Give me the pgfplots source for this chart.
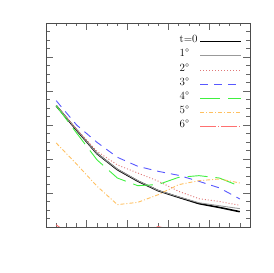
\documentclass[border=0pt]{standalone}
\usepackage{pgfplots}
\pgfplotsset{compat=1.18}
\definecolor{c1}{HTML}{999999}
\definecolor{c2}{HTML}{E07878}
\definecolor{c3}{HTML}{5858FF}
\definecolor{c4}{HTML}{40F040}
\definecolor{c5}{HTML}{FFC060}
\definecolor{c6}{HTML}{FF7070}
\tikzset{
  s0/.style={color=black, line width=1.6pt, solid},
  s1/.style={color=c1, line width=0.9pt, solid},
  s2/.style={color=c2, line width=0.9pt, dash pattern=on 1pt off 2pt},
  s3/.style={color=c3, line width=0.9pt, dash pattern=on 8pt off 6pt},
  s4/.style={color=c4, line width=0.9pt, dash pattern=on 20pt off 8pt},
  s5/.style={color=c5, line width=0.9pt, dash pattern=on 4pt off 2pt on 1pt off 2pt},
  s6/.style={color=c6, line width=0.9pt, dash pattern=on 16pt off 2pt on 1pt off 2pt},
}
\begin{document}
\begin{tikzpicture}
\useasboundingbox (0,0) rectangle (273pt,273pt);
\begin{axis}[
  at={(46pt,46pt)}, anchor=south west,
  scale only axis, width=204pt, height=204pt,
  xmin=0, xmax=20, ymin=0, ymax=24,
  xtick={0,4,...,20}, ytick={0,4,...,24},
  minor x tick num=3, minor y tick num=3,
  xticklabels={}, yticklabels={},
  tick align=inside, major tick length=7pt, minor tick length=3.5pt,
  axis line style={draw=black!70, line width=0.8pt},
  every tick/.style={black!60, line width=0.6pt},
  clip=true,
  legend plot pos=right,
  legend cell align=left,
  legend style={at={(rel axis cs:0.975,0.96)}, anchor=north east, draw=none, fill=none,
     font=\fontsize{11}{11}\selectfont,
     row sep=1.2pt},
  legend image code/.code={\draw[#1, line width=1.1pt] (0pt,-2pt) -- (41pt,-2pt);},
]
\addplot[s0, legend image post style={line width=1.8pt}] coordinates {(1,14.27)(3,11.4)(5,8.63)(7,6.75)(9,5.4)(11,4.27)(13,3.5)(15,2.75)(17,2.3)(19,1.8)};
\addlegendentry{t=0}
\addplot[s1] coordinates {(1,14.3)(3,11.45)(5,8.65)(7,6.8)(9,5.45)(11,4.3)(13,3.55)(15,2.85)(17,2.5)(19,2.16)};
\addlegendentry{1\textdegree}
\addplot[s2] coordinates {(1,14.27)(3,11.5)(5,8.9)(7,7.3)(9,6.35)(11,5.4)(13,4.2)(15,3.33)(17,3.0)(19,2.55)};
\addlegendentry{2\textdegree}
\addplot[s3] coordinates {(1,14.86)(3,12.0)(5,9.96)(7,8.2)(9,7.14)(11,6.55)(13,6.08)(15,5.37)(17,4.6)(19,3.3)};
\addlegendentry{3\textdegree}
\addplot[s4] coordinates {(1,14.27)(3,11.06)(5,7.9)(7,5.76)(9,4.86)(11,5.0)(13,5.84)(15,6.04)(17,5.76)(19,4.8)};
\addlegendentry{4\textdegree}
\addplot[s5] coordinates {(1,9.88)(3,7.4)(5,4.8)(7,2.63)(9,2.9)(11,3.8)(13,4.98)(15,5.45)(17,5.65)(19,5.18)};
\addlegendentry{5\textdegree}
\addplot[s6] coordinates {(1,0.25)(2,-0.6)(5,-1.5)(9,-0.5)(11,0.05)(13,-0.5)(16,-1.5)(19,-2)};
\addlegendentry{6\textdegree}
\end{axis}
\end{tikzpicture}
\end{document}
